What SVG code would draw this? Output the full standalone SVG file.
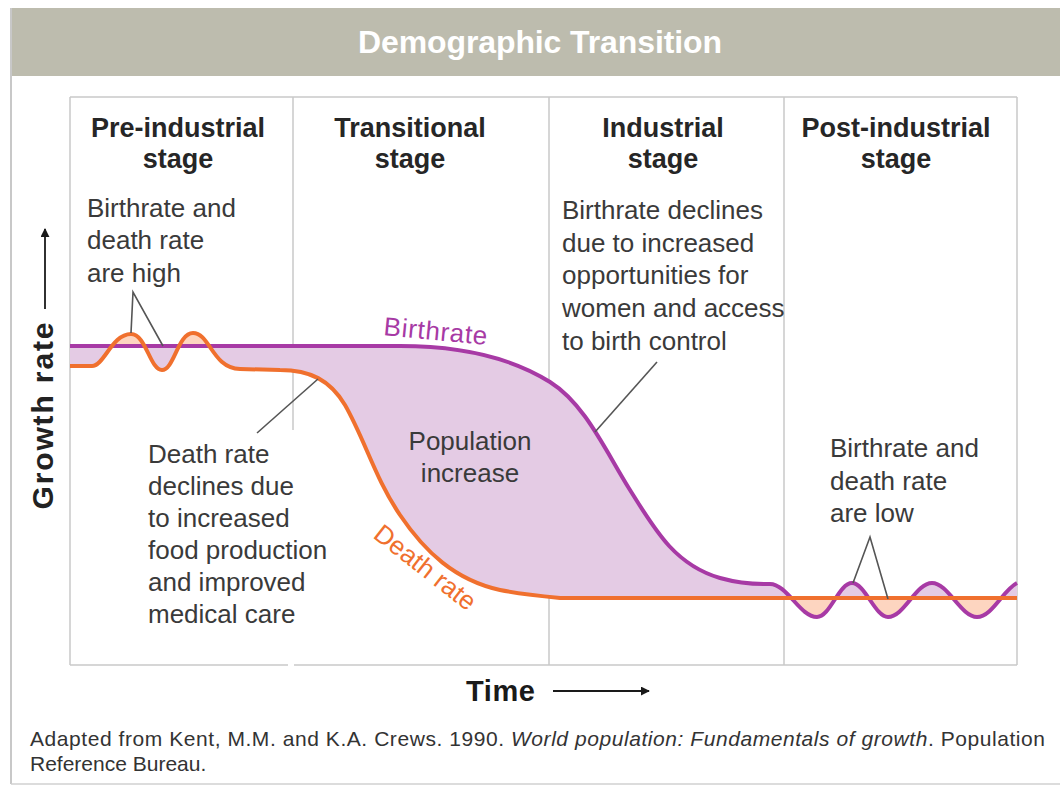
<svg xmlns="http://www.w3.org/2000/svg" width="1060" height="786" viewBox="0 0 1060 786">
<style>
.grid{stroke:#c8c8c8;stroke-width:1.5;fill:none}
.lead{stroke:#555;stroke-width:1.6;fill:none}
.head{font-family:"Liberation Sans",Arial,sans-serif;font-weight:bold;font-size:27px;fill:#262626;text-anchor:middle}
.note{font-family:"Liberation Sans",Arial,sans-serif;font-size:26px;fill:#3a3a3a}
.birth{stroke:#a73aa5;stroke-width:4;fill:none}
.death{stroke:#f0702e;stroke-width:4;fill:none}
</style>
<defs>
<clipPath id="belowBirth"><path d="M70,346 L400,346 C465,346 515,360 550,382 C585,404 605,450 630,490 C655,530 675,565 720,578 C745,585 760,584 770,584 C787,584 800,617 817,617 C830,617 839,583 852,583 C865,583 875,617 888,617 C904,617 916,583 932,583 C948,583 961,617 977,617 C992,617 1003,590 1017,583 L1017,700 L70,700 Z"/></clipPath>
<clipPath id="aboveBirth"><path d="M70,346 L400,346 C465,346 515,360 550,382 C585,404 605,450 630,490 C655,530 675,565 720,578 C745,585 760,584 770,584 C787,584 800,617 817,617 C830,617 839,583 852,583 C865,583 875,617 888,617 C904,617 916,583 932,583 C948,583 961,617 977,617 C992,617 1003,590 1017,583 L1017,90 L70,90 Z"/></clipPath>
<marker id="arr" viewBox="0 0 10 10" refX="9" refY="5" markerWidth="9" markerHeight="9" markerUnits="userSpaceOnUse" orient="auto"><path d="M0,0 L10,5 L0,10 Z" fill="#1a1a1a"/></marker>
</defs>
<rect x="0" y="0" width="1060" height="786" fill="#ffffff"/>
<g id="frame">
<rect x="11" y="8" width="1049" height="68" fill="#bdbcae"/>
<line x1="11" y1="8" x2="11" y2="784" stroke="#c8c8c8" stroke-width="2"/>
<line x1="11" y1="784" x2="1060" y2="784" stroke="#d0d0d0" stroke-width="1.5"/>
<text x="540" y="53" font-family="'Liberation Sans',Arial,sans-serif" font-weight="bold" font-size="32" fill="#ffffff" text-anchor="middle" textLength="364">Demographic Transition</text>
</g>
<g id="plot-grid">
<line class="grid" x1="70" y1="97" x2="1017" y2="97"/>
<line class="grid" x1="70" y1="97" x2="70" y2="665"/>
<line class="grid" x1="1017" y1="97" x2="1017" y2="665"/>
<line class="grid" x1="70" y1="665" x2="288" y2="665"/>
<line class="grid" x1="294" y1="665" x2="1017" y2="665"/>
<line class="grid" x1="293" y1="97" x2="293" y2="430"/>
<line class="grid" x1="549" y1="97" x2="549" y2="665"/>
<line class="grid" x1="784" y1="97" x2="784" y2="665"/>
</g>
<g id="stage-pre">
<text class="head" x="178" y="137">Pre-industrial</text>
<text class="head" x="178" y="168">stage</text>
<text class="note" x="87" y="217">Birthrate and</text>
<text class="note" x="87" y="249">death rate</text>
<text class="note" x="87" y="282">are high</text>
</g>
<g id="stage-transitional">
<text class="head" x="410" y="137">Transitional</text>
<text class="head" x="410" y="168">stage</text>
</g>
<g id="stage-industrial">
<text class="head" x="663" y="137">Industrial</text>
<text class="head" x="663" y="168">stage</text>
<text class="note" x="562" y="219">Birthrate declines</text>
<text class="note" x="562" y="252">due to increased</text>
<text class="note" x="562" y="284">opportunities for</text>
<text class="note" x="562" y="317">women and access</text>
<text class="note" x="562" y="350">to birth control</text>
</g>
<g id="stage-post">
<text class="head" x="896" y="137">Post-industrial</text>
<text class="head" x="896" y="168">stage</text>
<text class="note" x="830" y="457">Birthrate and</text>
<text class="note" x="830" y="490">death rate</text>
<text class="note" x="830" y="522">are low</text>
</g>
<g id="areas">
<path clip-path="url(#belowBirth)" fill="#e4cbe4" d="M70,366 L92,366 C104,366 112,334 131,334 C146,334 150,370 162,370 C174,370 178,333 193,333 C210,333 212,368 240,369 L280,370 C310,370 330,380 345,405 C365,440 375,478 400,515 C425,552 455,580 500,590 C520,594 540,596 560,598 L1017,598 L1017,90 L70,90 Z"/>
<path clip-path="url(#aboveBirth)" fill="#fdd5c0" d="M70,366 L92,366 C104,366 112,334 131,334 C146,334 150,370 162,370 C174,370 178,333 193,333 C210,333 212,368 240,369 L280,370 C310,370 330,380 345,405 C365,440 375,478 400,515 C425,552 455,580 500,590 C520,594 540,596 560,598 L1017,598 L1017,700 L70,700 Z"/>
</g>
<g id="population-increase">
<text class="note" x="470" y="450" text-anchor="middle">Population</text>
<text class="note" x="470" y="482" text-anchor="middle">increase</text>
</g>
<g id="death-rate-note">
<text class="note" x="148" y="463">Death rate</text>
<text class="note" x="148" y="495">declines due</text>
<text class="note" x="148" y="527">to increased</text>
<text class="note" x="148" y="559">food production</text>
<text class="note" x="148" y="591">and improved</text>
<text class="note" x="148" y="623">medical care</text>
</g>
<g id="connectors">
<path class="birth" d="M70,346 L400,346 C465,346 515,360 550,382 C585,404 605,450 630,490 C655,530 675,565 720,578 C745,585 760,584 770,584 C787,584 800,617 817,617 C830,617 839,583 852,583 C865,583 875,617 888,617 C904,617 916,583 932,583 C948,583 961,617 977,617 C992,617 1003,590 1017,583"/>
<path class="death" d="M70,366 L92,366 C104,366 112,334 131,334 C146,334 150,370 162,370 C174,370 178,333 193,333 C210,333 212,368 240,369 L280,370 C310,370 330,380 345,405 C365,440 375,478 400,515 C425,552 455,580 500,590 C520,594 540,596 560,598 L1017,598"/>
<polyline class="lead" points="131,333 133,292 163,346"/>
<line class="lead" x1="318" y1="379" x2="257" y2="433"/>
<line class="lead" x1="595" y1="432" x2="657" y2="362"/>
<polyline class="lead" points="853,583 870,537 888,599"/>
<line x1="45" y1="309" x2="45" y2="229" stroke="#1a1a1a" stroke-width="1.8" marker-end="url(#arr)"/>
<line x1="553" y1="691" x2="649" y2="691" stroke="#1a1a1a" stroke-width="1.8" marker-end="url(#arr)"/>
</g>
<g id="curve-labels">
<text x="383" y="335" transform="rotate(5.5 383 335)" font-family="'Liberation Sans',Arial,sans-serif" font-size="26" fill="#a73aa5" textLength="104">Birthrate</text>
<text x="372" y="537" transform="rotate(38 372 537)" font-family="'Liberation Sans',Arial,sans-serif" font-size="26" fill="#f0702e">Death rate</text>
</g>
<g id="axes">
<text x="53" y="416" transform="rotate(-90 53 416)" font-family="'Liberation Sans',Arial,sans-serif" font-weight="bold" font-size="30" fill="#222" text-anchor="middle" textLength="187">Growth rate</text>
<text x="466" y="701" font-family="'Liberation Sans',Arial,sans-serif" font-weight="bold" font-size="29" fill="#1a1a1a" textLength="69">Time</text>
</g>
<g id="source">
<text x="30" y="746" font-family="'Liberation Sans',Arial,sans-serif" font-size="21" fill="#333" textLength="1015">Adapted from Kent, M.M. and K.A. Crews. 1990. <tspan font-style="italic">World population: Fundamentals of growth</tspan>. Population</text>
<text x="30" y="771" font-family="'Liberation Sans',Arial,sans-serif" font-size="21" fill="#333">Reference Bureau.</text>
</g>
</svg>
